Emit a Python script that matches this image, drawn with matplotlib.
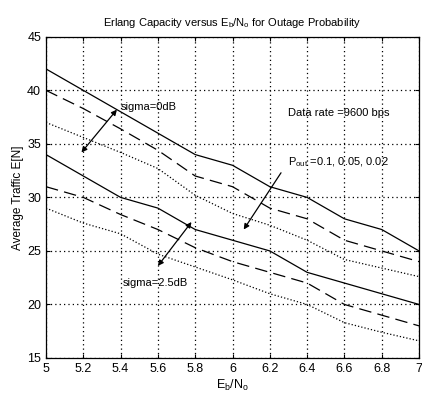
import numpy as np
import matplotlib
matplotlib.use('Agg')
import matplotlib.pyplot as plt

plt.rcParams['font.family'] = ['Liberation Sans Narrow', 'Liberation Sans', 'DejaVu Sans']

ebno = [5.0, 5.2, 5.4, 5.6, 5.8, 6.0, 6.2, 6.4, 6.6, 6.8, 7.0]

# sigma = 0 dB
s0_p10 = [42, 40, 38, 36, 34, 33, 31, 30, 28, 27, 25]
s0_p05 = [40, 38.3, 36.4, 34.4, 32, 31, 29, 28, 26, 25, 24]
s0_p02 = [37, 35.6, 34.2, 32.7, 30.2, 28.5, 27.4, 26, 24.2, 23.4, 22.6]

# sigma = 2.5 dB
s25_p10 = [34, 32, 30, 29, 27, 26, 25, 23, 22, 21, 20]
s25_p05 = [31, 30, 28.4, 27, 25.3, 24, 23, 22, 20, 19, 18]
s25_p02 = [29, 27.6, 26.6, 24.7, 23.5, 22.3, 21, 20, 18.3, 17.4, 16.6]

fig = plt.figure(figsize=(4.22, 3.96), dpi=100)
ax = fig.add_axes([0.109, 0.096, 0.884, 0.811])

lw = 0.9
ax.plot(ebno, s0_p10, 'k-', lw=lw)
ax.plot(ebno, s0_p05, 'k--', lw=lw, dashes=(10, 5))
ax.plot(ebno, s0_p02, 'k:', lw=lw)
ax.plot(ebno, s25_p10, 'k-', lw=lw)
ax.plot(ebno, s25_p05, 'k--', lw=lw, dashes=(10, 5))
ax.plot(ebno, s25_p02, 'k:', lw=lw)

ax.set_xlim(5, 7)
ax.set_ylim(15, 45)
ax.set_xticks(ebno)
ax.set_xticklabels(['5', '5.2', '5.4', '5.6', '5.8', '6', '6.2', '6.4', '6.6', '6.8', '7'])
ax.set_yticks(range(15, 46, 5))
ax.tick_params(direction='in', labelsize=9, length=3, top=True, right=True)
ax.grid(True, color='k', linestyle=(0, (1, 2.5)), linewidth=0.9)
for sp in ax.spines.values():
    sp.set_linewidth(0.9)

ax.set_title('Erlang Capacity versus E$_\\mathregular{b}$/N$_\\mathregular{o}$ for Outage Probability',
             fontsize=8, pad=8)
ax.set_xlabel('E$_\\mathregular{b}$/N$_\\mathregular{o}$', fontsize=9, labelpad=2)
ax.set_ylabel('Average Traffic E[N]', fontsize=8.5, labelpad=2)

arr = dict(arrowstyle='<|-|>', color='k', lw=0.9, mutation_scale=8, shrinkA=0, shrinkB=0)
ax.annotate('', xy=(5.19, 34.2), xytext=(5.38, 38.2), arrowprops=arr)
ax.text(5.40, 38.4, 'sigma=0dB', fontsize=8, va='center')

ax.annotate('', xy=(5.60, 23.6), xytext=(5.78, 27.7), arrowprops=arr)
ax.text(5.41, 22.0, 'sigma=2.5dB', fontsize=8, va='center')

ax.text(6.30, 37.9, 'Data rate =9600 bps', fontsize=8, va='center')
ax.text(6.30, 33.3, 'P$_\\mathregular{out}$ =0.1, 0.05, 0.02', fontsize=8, va='center')
ax.annotate('', xy=(6.06, 27.0), xytext=(6.26, 32.3),
            arrowprops=dict(arrowstyle='-|>', color='k', lw=0.9, mutation_scale=8,
                            shrinkA=0, shrinkB=0))

plt.savefig('out.png', dpi=100)
